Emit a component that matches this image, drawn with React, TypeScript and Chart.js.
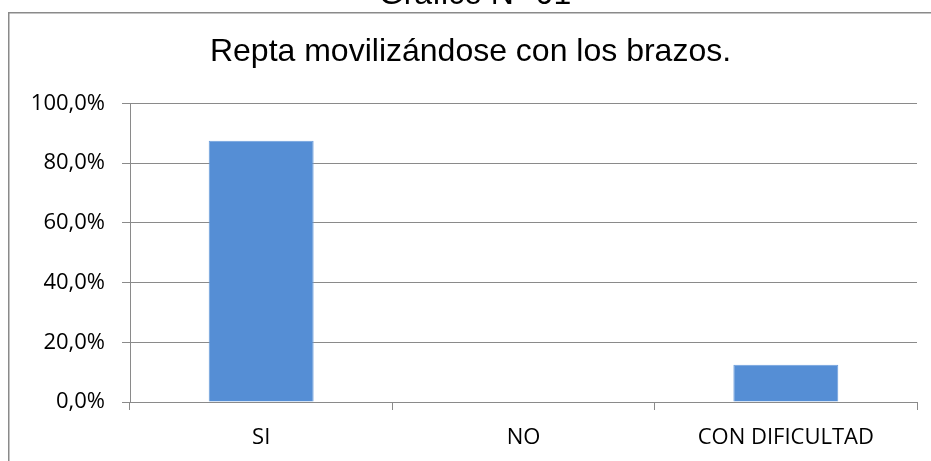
import React, { useEffect, useRef } from "react";
import { Chart, registerables } from "chart.js";

Chart.register(...registerables);

const categories = ["SI", "NO", "CON DIFICULTAD"];
const values = [87.5, 0, 12.5];
const yTickLabels = ["0,0%", "20,0%", "40,0%", "60,0%", "80,0%", "100,0%"];
const chartTitle = "Repta movilizándose con los brazos.";
const figureLabel = "Gráfico N° 01";

const W = 931;
const H = 461;

const framePlugin = {
  id: "framePlugin",
  beforeDraw(chart: any) {
    const ctx = chart.ctx;
    ctx.save();
    ctx.fillStyle = "#ffffff";
    ctx.fillRect(0, 0, chart.width, chart.height);
    ctx.fillStyle = "#000000";
    ctx.font = '32px "Liberation Sans", Arial, sans-serif';
    ctx.textAlign = "center";
    ctx.textBaseline = "alphabetic";
    ctx.fillText(figureLabel, 475, 4);
    ctx.restore();
  },
  afterDraw(chart: any) {
    const ctx = chart.ctx;
    ctx.save();
    ctx.fillStyle = "#8a8a8a";
    ctx.fillRect(8, 12, 1.5, chart.height);
    ctx.fillRect(8, 12, chart.width, 1.5);
    ctx.restore();
  },
};

export default function App() {
  const ref = useRef<HTMLCanvasElement | null>(null);
  useEffect(() => {
    if (!ref.current) return;
    document.body.style.margin = "0";
    document.body.style.overflow = "hidden";
    const chart = new Chart(ref.current, {
      type: "bar",
      data: {
        labels: categories,
        datasets: [
          {
            data: values,
            backgroundColor: "#558ED5",
            borderColor: "#6B9DDC",
            borderWidth: 1,
            categoryPercentage: 1,
            barPercentage: 0.4,
          },
        ],
      },
      options: {
        responsive: false,
        animation: false,
        devicePixelRatio: 1,
        layout: { padding: { left: 24, right: 14, top: 0, bottom: 0 } },
        plugins: {
          legend: { display: false },
          tooltip: { enabled: false },
          title: {
            display: true,
            text: chartTitle,
            color: "#000000",
            font: { family: '"Liberation Sans", Arial, sans-serif', size: 32, weight: "normal" },
            padding: { top: 33, bottom: 32 },
          },
        },
        scales: {
          x: {
            offset: true,
            grid: {
              offset: true,
              drawOnChartArea: false,
              drawTicks: true,
              tickLength: 8,
              color: "#8a8a8a",
            },
            border: { display: true, color: "#8a8a8a" },
            ticks: {
              color: "#000000",
              font: { family: '"Open Sans", sans-serif', size: 22 },
              padding: 15,
              maxRotation: 0,
            },
            afterFit(scale: any) {
              scale.height = H - 402;
            },
          },
          y: {
            min: 0,
            max: 100,
            grid: { color: "#8a8a8a", tickLength: 8 },
            border: { display: true, color: "#8a8a8a" },
            ticks: {
              stepSize: 20,
              color: "#000000",
              font: { family: '"Open Sans", sans-serif', size: 22 },
              padding: 17,
              callback: (_v: any, i: number) => yTickLabels[i],
            },
            afterFit(scale: any) {
              scale.width = 130 - 24;
            },
          },
        },
      },
      plugins: [framePlugin],
    });
    return () => chart.destroy();
  }, []);
  return (
    <div style={{ position: "absolute", left: 0, top: 0, width: W, height: H, background: "#fff", overflow: "hidden" }}>
      <canvas ref={ref} width={W} height={H} style={{ display: "block", width: W, height: H }} />
    </div>
  );
}
